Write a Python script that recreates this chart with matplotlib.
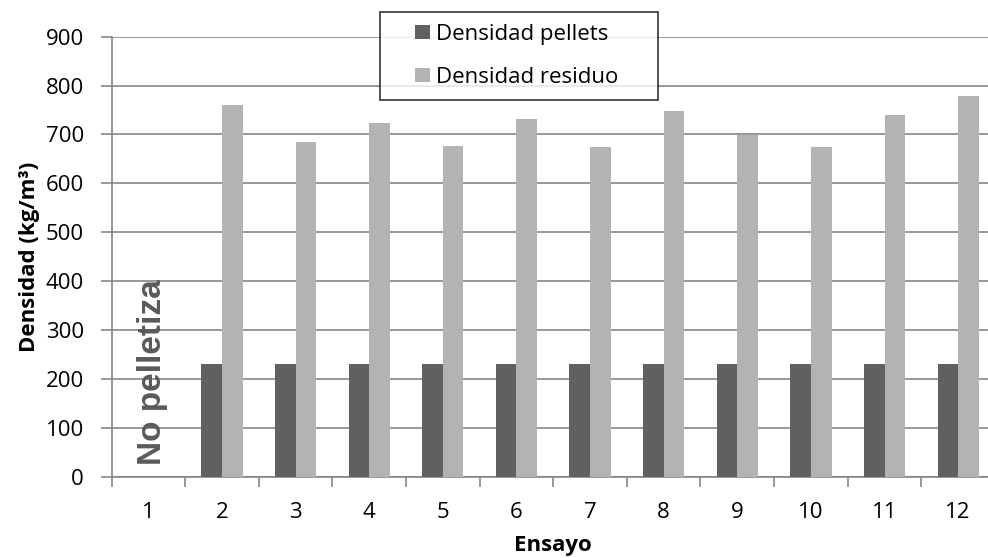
import matplotlib.pyplot as plt
import numpy as np
from matplotlib.legend_handler import HandlerPatch
from matplotlib.patches import Rectangle
from matplotlib.ticker import MultipleLocator, FixedLocator, NullFormatter

# Data
ensayos = ["1", "2", "3", "4", "5", "6", "7", "8", "9", "10", "11", "12"]
densidad_pellets = [0, 230, 230, 230, 230, 230, 230, 230, 230, 230, 230, 230]
densidad_residuo = [0, 760, 685, 723, 676, 732, 674, 749, 698, 674, 739, 779]

DARK = "#606060"
LIGHT = "#b3b3b3"
GRID = "#868686"

plt.rcParams["font.family"] = ["Open Sans", "DejaVu Sans"]


def square_at_right(legend, orig_handle, xdescent, ydescent, width, height, fontsize):
    # small square marker pushed to the right end of the handle box, like Excel
    size = 0.66 * fontsize
    return Rectangle((width - xdescent - size, height / 2 - ydescent - size / 2),
                     size, size)


def main():
    fig = plt.figure(figsize=(9.88, 5.58), dpi=100)
    ax = fig.add_axes([0.113, 0.1457, 0.894, 0.7885])

    x = np.arange(len(ensayos))
    width = 0.28

    bars_p = ax.bar(x[1:] - width / 2, densidad_pellets[1:], width, color=DARK,
                    zorder=3)
    bars_r = ax.bar(x[1:] + width / 2, densidad_residuo[1:], width, color=LIGHT,
                    zorder=3)

    ax.set_xlim(-0.5, len(ensayos) - 0.5)
    ax.set_ylim(0, 900)
    ax.yaxis.set_major_locator(MultipleLocator(100))
    ax.grid(axis="y", color=GRID, linewidth=1.2, zorder=0)

    ax.set_xticks(x)
    ax.set_xticklabels(ensayos)
    ax.xaxis.set_minor_locator(FixedLocator(np.arange(-0.5, len(ensayos), 1)))
    ax.xaxis.set_minor_formatter(NullFormatter())
    ax.tick_params(axis="x", which="major", length=0, pad=18, labelsize=16)
    ax.tick_params(axis="x", which="minor", length=7, width=1.2, color=GRID)
    ax.tick_params(axis="y", length=8, width=1.2, color=GRID, pad=12, labelsize=16)

    for side in ["top", "right"]:
        ax.spines[side].set_visible(False)
    for side in ["left", "bottom"]:
        ax.spines[side].set_color(GRID)
        ax.spines[side].set_linewidth(1.2)

    ax.set_xlabel("Ensayo", fontsize=16, fontweight="bold", labelpad=9)
    ax.set_ylabel("Densidad (kg/m³)", fontsize=16, fontweight="bold", labelpad=4)

    ax.text(x[0] + 0.06, 24, "No pelletiza", rotation=90, ha="center", va="bottom",
            fontsize=24, fontweight="bold", color="#5a5a5a",
            family="Liberation Sans", zorder=4)

    leg = ax.legend([bars_p.patches[0], bars_r.patches[0]],
                    ["Densidad pellets", "Densidad residuo"],
                    loc="upper left",
                    bbox_to_anchor=(380 / 988, 1 - 97.7 / 558, 278 / 988, 86 / 558),
                    bbox_transform=fig.transFigure, mode="expand",
                    frameon=True, fancybox=False,
                    fontsize=16, handlelength=1.68, handleheight=0.7,
                    handletextpad=0.28, borderpad=0.55, labelspacing=0.98,
                    borderaxespad=0,
                    handler_map={Rectangle: HandlerPatch(patch_func=square_at_right)})
    leg.get_frame().set_edgecolor("black")
    leg.get_frame().set_linewidth(1.2)
    leg.set_zorder(5)

    fig.savefig("out.png", dpi=100)
    plt.close(fig)


if __name__ == "__main__":
    main()
